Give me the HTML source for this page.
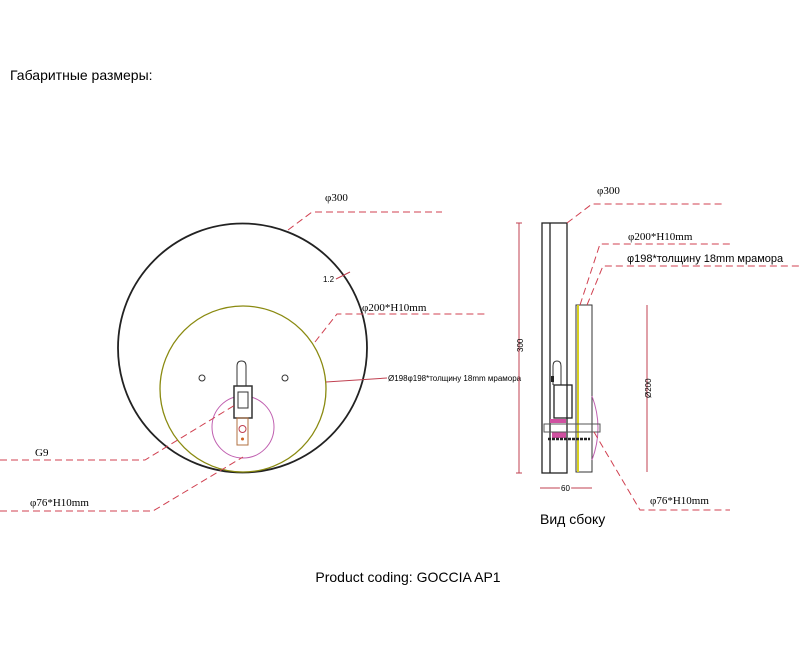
<!DOCTYPE html>
<html><head><meta charset="utf-8"><style>
html,body{margin:0;padding:0;background:#fff;width:800px;height:655px;overflow:hidden}
svg{display:block}
.t{font-family:"Liberation Sans",sans-serif;fill:#000}
.s{font-family:"Liberation Serif",serif;fill:#000}
.d{stroke:#d04050;stroke-width:1;fill:none;stroke-dasharray:7 4}
.r{stroke:#c04050;stroke-width:1;fill:none}
</style></head><body>
<svg width="800" height="655" viewBox="0 0 800 655" xmlns="http://www.w3.org/2000/svg">
<text x="10" y="80" class="t" font-size="14">Габаритные размеры:</text>

<!-- front view -->
<circle cx="242.5" cy="348" r="124.5" fill="none" stroke="#222" stroke-width="1.8"/>
<circle cx="243" cy="389" r="83" fill="none" stroke="#8a8a10" stroke-width="1.3"/>
<circle cx="243" cy="427" r="31" fill="none" stroke="#c060b0" stroke-width="1"/>
<circle cx="202" cy="378" r="3" fill="none" stroke="#333"/>
<circle cx="285" cy="378" r="3" fill="none" stroke="#333"/>
<path d="M237,386 V366 Q237,361 241.5,361 Q246,361 246,366 V386" fill="none" stroke="#333"/>
<rect x="234" y="386" width="18" height="32" fill="#fff" stroke="#333" stroke-width="1.5"/>
<rect x="238" y="392" width="10" height="16" fill="none" stroke="#333"/>
<rect x="237" y="418" width="11" height="27" fill="none" stroke="#b07040"/>
<circle cx="242.5" cy="429" r="3.5" fill="none" stroke="#c04050"/>
<circle cx="242.5" cy="439" r="1.5" fill="#d06020"/>

<text x="325" y="201" class="s" font-size="11">φ300</text>
<path class="d" d="M288,230 L312,212 H442"/>
<text x="323" y="282" class="t" font-size="8">1.2</text>
<path class="r" d="M336,279 L350,272"/>
<text x="362" y="311" class="s" font-size="11">φ200*H10mm</text>
<path class="d" d="M315,342 L337,314 H487"/>
<path class="r" d="M326,382 L387,378"/>
<text x="388" y="381" class="t" font-size="8">Ø198φ198*толщину 18mm мрамора</text>
<text x="35" y="456" class="s" font-size="11">G9</text>
<path class="d" d="M0,460 H145 L235,405"/>
<text x="30" y="506" class="s" font-size="11">φ76*H10mm</text>
<path class="d" d="M0,511 H153 L243,457"/>

<!-- side view -->
<path class="r" d="M519,223 V473 M516,223 H522 M516,473 H522"/>
<text x="0" y="0" class="t" font-size="8" transform="translate(523,352) rotate(-90)">300</text>
<rect x="542" y="223" width="25" height="250" fill="none" stroke="#222" stroke-width="1.3"/>
<line x1="550" y1="223" x2="550" y2="473" stroke="#222" stroke-width="1.3"/>
<rect x="576" y="305" width="16" height="167" fill="none" stroke="#333"/>
<line x1="578" y1="305" x2="578" y2="472" stroke="#d8d020" stroke-width="2"/>
<path d="M592,396 Q604,428 592,460" fill="none" stroke="#c060b0"/>
<path d="M553,385 V366 Q553,361 557,361 Q561,361 561,366 V385" fill="none" stroke="#333"/>
<rect x="554" y="385" width="18" height="33" fill="none" stroke="#222" stroke-width="1.3"/>
<rect x="551" y="376" width="3" height="6" fill="#222"/>
<rect x="550" y="419" width="16" height="4" fill="#d050a0"/>
<rect x="552" y="432" width="14" height="6" fill="#d050a0"/>
<rect x="544" y="424" width="56" height="8" fill="none" stroke="#555"/>
<line x1="548" y1="439" x2="590" y2="439" stroke="#222" stroke-width="2.5" stroke-dasharray="3 1"/>
<path class="r" d="M647,305 V472"/>
<text x="0" y="0" class="t" font-size="8" transform="translate(651,398) rotate(-90)">Ø200</text>
<path class="r" d="M540,488 H592"/>
<text x="561" y="491" class="t" font-size="8" fill="#000" style="paint-order:stroke" stroke="#fff" stroke-width="3">60</text>
<text x="597" y="194" class="s" font-size="11">φ300</text>
<path class="d" d="M567,223 L592,204 H722"/>
<text x="628" y="240" class="s" font-size="11">φ200*H10mm</text>
<path class="d" d="M580,305 L600,244 H730"/>
<text x="627" y="262" class="t" font-size="11">φ198*толщину 18mm мрамора</text>
<path class="d" d="M587,305 L603,266 H800"/>
<text x="650" y="504" class="s" font-size="11">φ76*H10mm</text>
<path class="d" d="M594,432 L640,510 H730"/>
<text x="540" y="524" class="t" font-size="14">Вид сбоку</text>

<text x="408" y="582" class="t" font-size="14" text-anchor="middle">Product coding: GOCCIA AP1</text>
</svg>
</body></html>
